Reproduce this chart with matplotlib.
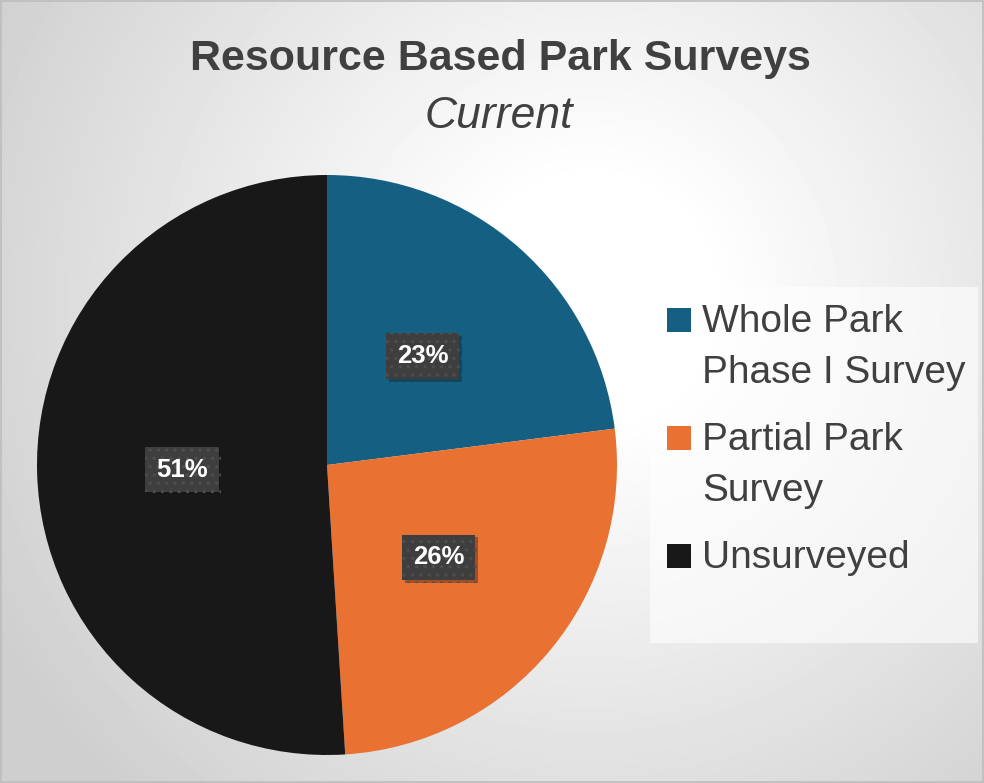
import numpy as np
import matplotlib.pyplot as plt
from matplotlib.patches import Rectangle
import matplotlib.patheffects as pe

# data
labels = ['Whole Park\nPhase I Survey', 'Partial Park\nSurvey', 'Unsurveyed']
shares = [23, 26, 51]
colors = ['#156082', '#E97132', '#181818']
title = 'Resource Based Park Surveys'
subtitle = 'Current'

W, H = 984, 783
plt.rcParams['font.family'] = ['Liberation Sans', 'DejaVu Sans']
plt.rcParams['hatch.linewidth'] = 1.2

fig = plt.figure(figsize=(W / 100, H / 100), dpi=100)

# radial grey background
bg = fig.add_axes([0, 0, 1, 1])
yy, xx = np.mgrid[0:H, 0:W]
d = np.hypot(xx - 590, yy - 300)
shade = np.clip((d - 120) / 560, 0, 1)
img = 1.0 - 0.19 * shade
bg.imshow(img, cmap='gray', vmin=0, vmax=1, extent=[0, W, H, 0], aspect='auto')
bg.add_patch(Rectangle((0.5, 0.5), W - 1.5, H - 1.5, fill=False, ec='#bdbdbd', lw=1.2))
bg.set_xlim(0, W)
bg.set_ylim(H, 0)
bg.axis('off')

# pie: centre (327, 465), radius 290 px
cx, cy, r = 327, 465, 290
ax = fig.add_axes([(cx - r) / W, (H - cy - r) / H, 2 * r / W, 2 * r / H])
wedges, _, autotexts = ax.pie(shares, colors=colors, startangle=90, counterclock=False,
                              autopct='%1.0f%%', pctdistance=0.5,
                              wedgeprops=dict(linewidth=0))
ax.set_xlim(-1, 1)
ax.set_ylim(-1, 1)
ax.set_aspect('equal')
for t in autotexts:
    t.set_color('white')
    t.set_fontsize(18.5)
    t.set_fontweight('bold')
    t.set_bbox(dict(boxstyle='square,pad=0.42', facecolor='#3e3e3e', edgecolor='#4d4d4d',
                    linewidth=0, hatch='..'))
    t.get_bbox_patch().set_path_effects([pe.SimplePatchShadow(offset=(2, -2), alpha=0.35), pe.Normal()])

# titles
fig.text(500 / W, 1 - 70 / H, title, ha='center', va='baseline', fontsize=31,
         fontweight='bold', color='#404040')
fig.text(499 / W, 1 - 128 / H, subtitle, ha='center', va='baseline', fontsize=32,
         style='italic', color='#404040')

# legend (handles aligned with first line of each label)
bg.add_patch(Rectangle((650, 287), 328, 356, facecolor='white', alpha=0.6, ec='none'))
base = 332
for lab, col in zip(labels, colors):
    bg.add_patch(Rectangle((667, base - 24), 24, 24, facecolor=col, ec='none'))
    for line in lab.split('\n'):
        bg.text(702, base, line, fontsize=28, color='#404040', va='baseline', ha='left')
        base += 51
    base += 16

fig.savefig('out.png', dpi=100)
